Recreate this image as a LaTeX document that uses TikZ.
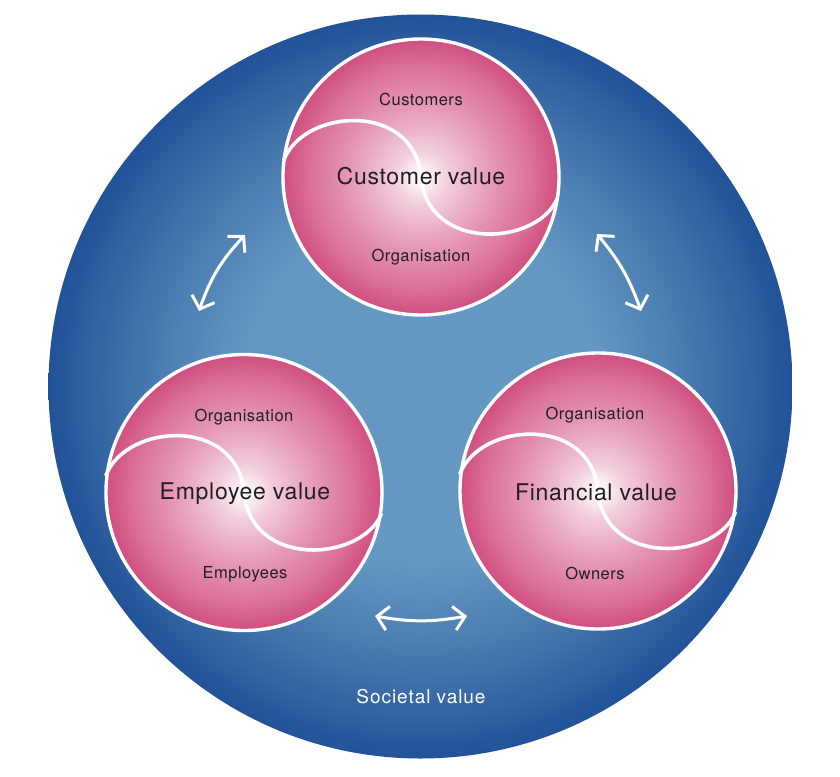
\documentclass[tikz,border=0pt]{standalone}
\usepackage{fontspec}
\setmainfont{TeX Gyre Heros}[LetterSpace=3]
\usetikzlibrary{arrows.meta}
\definecolor{blueE}{RGB}{34,82,152}
\definecolor{blueC}{RGB}{100,152,194}
\definecolor{pinkE}{RGB}{208,78,128}
\definecolor{pinkA}{RGB}{242,205,220}
\definecolor{pinkM}{RGB}{229,152,182}
\definecolor{pinkB}{RGB}{218,110,152}
\definecolor{txt}{RGB}{35,31,32}
\pgfdeclareradialshading{blueball}{\pgfpoint{0bp}{0bp}}{color(0bp)=(blueC); color(12bp)=(blueC); color(19bp)=(blueC!50!blueE); color(25bp)=(blueE); color(50bp)=(blueE)}
\pgfdeclareradialshading{pinkball}{\pgfpoint{0bp}{0bp}}{color(0bp)=(white); color(5bp)=(pinkA); color(13bp)=(pinkM); color(20.5bp)=(pinkB); color(25bp)=(pinkE); color(50bp)=(pinkE)}
\newcommand{\drawSwave}[2]{%
  \draw[swave,shift={(#1.center)}] ({-0.995*#2},{0.12*#2})
    .. controls ({-0.85*#2},{0.5*#2}) and ({-0.05*#2},{0.55*#2}) .. (0,0)
    .. controls ({0.05*#2},{-0.55*#2}) and ({0.85*#2},{-0.5*#2}) .. ({0.99*#2},{-0.15*#2});}
\tikzset{
  ball/.style={circle, inner sep=0pt, minimum size=276pt, shading=pinkball, draw=white, line width=3.4pt},
  swave/.style={white, line width=3.6pt},
  biglab/.style={text=txt, font=\fontsize{23}{27}\selectfont, inner sep=0pt},
  smalllab/.style={text=txt, font=\fontsize{16.5}{19}\selectfont, inner sep=0pt},
  dblarrow/.style={white, line width=3pt, line cap=round,
    {Straight Barb[length=11pt,width=24pt]}-{Straight Barb[length=11pt,width=24pt]}}
}
\begin{document}
\begin{tikzpicture}[x=1pt,y=-1pt]
\useasboundingbox (0,0) rectangle (840,776);
\fill[white] (0,0) rectangle (840,776);
\node[circle, inner sep=0pt, minimum size=744pt, shading=blueball] (soc) at (420.5,386.5) {};
\node[ball] (cust) at (421,177) {};
\node[ball] (empl) at (244,492.5) {};
\node[ball] (fin) at (598,491) {};
\drawSwave{cust}{138pt}
\drawSwave{empl}{139pt}
\drawSwave{fin}{139pt}
\node[smalllab] (cust1) at (421,99) {Customers};
\node[biglab] (cust2) at (421,176) {Customer value};
\node[smalllab] (cust3) at (421,257) {Organisation};
\node[smalllab] (empl1) at (244,417) {Organisation};
\node[biglab] (empl2) at (245,494) {Employee value};
\node[smalllab] (empl3) at (245,574) {Employees};
\node[smalllab] (fin1) at (595,415) {Organisation};
\node[biglab] (fin2) at (596,492) {Financial value};
\node[smalllab] (fin3) at (595,573) {Owners};
\node[text=white, font=\fontsize{19}{22}\selectfont\addfontfeatures{LetterSpace=5}, inner sep=0pt] (soclab) at (421,697) {Societal value};
\coordinate (a1s) at (199,311);
\coordinate (a1e) at (245,235);
\coordinate (a2s) at (597,234);
\coordinate (a2e) at (641,311);
\coordinate (a3s) at (375,616);
\coordinate (a3e) at (467,616);
\draw[dblarrow] (a1s) to[bend left=12] (a1e);
\draw[dblarrow] (a2s) to[bend left=10] (a2e);
\draw[dblarrow] (a3s) to[bend right=10] (a3e);
\end{tikzpicture}
\end{document}
